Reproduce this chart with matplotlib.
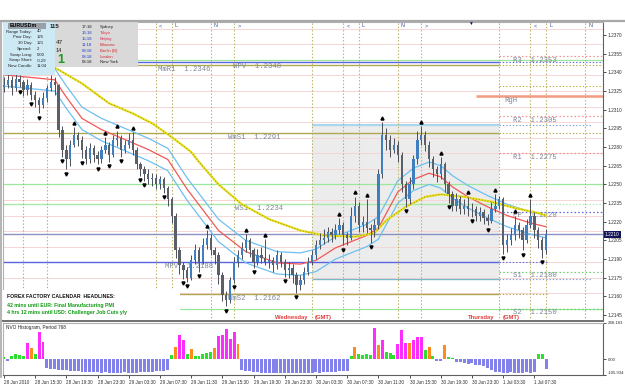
import numpy as np
import matplotlib.pyplot as plt
from matplotlib.patches import Rectangle
from matplotlib.lines import Line2D

plt.rcParams['font.family'] = ['Liberation Sans', 'DejaVu Sans']

W, H = 625, 392

# EURUSD 30-min bars from 28 Jun 2010 11:30, prices in points (1 pt = 0.0001)
first_open_pts = 12328
close_pts = [12330, 12334, 12327, 12335, 12332, 12326, 12330, 12322, 12318, 12314,
             12319, 12327, 12332, 12330, 12294, 12278, 12270, 12282, 12290, 12286,
             12278, 12270, 12279, 12274, 12270, 12278, 12282, 12274, 12286, 12287,
             12278, 12282, 12286, 12278, 12266, 12262, 12258, 12254, 12255, 12250,
             12254, 12247, 12238, 12225, 12197, 12185, 12181, 12175, 12189, 12197,
             12188, 12201, 12207, 12197, 12193, 12177, 12161, 12157, 12173, 12188,
             12193, 12199, 12205, 12197, 12188, 12193, 12191, 12188, 12189, 12185,
             12193, 12188, 12181, 12183, 12177, 12169, 12173, 12180, 12188, 12193,
             12201, 12205, 12207, 12212, 12209, 12213, 12217, 12209, 12207, 12225,
             12233, 12217, 12220, 12215, 12213, 12217, 12258, 12290, 12286, 12278,
             12282, 12274, 12250, 12238, 12250, 12270, 12286, 12290, 12282, 12270,
             12262, 12258, 12266, 12250, 12242, 12233, 12238, 12230, 12233, 12230,
             12230, 12225, 12228, 12223, 12221, 12230, 12233, 12238, 12201, 12205,
             12209, 12217, 12213, 12205, 12217, 12225, 12213, 12205, 12197, 12210]
high_pts = [12336, 12340, 12337, 12339, 12338, 12334, 12335, 12332, 12325, 12320,
            12324, 12330, 12338, 12336, 12331, 12297, 12282, 12286, 12296, 12292,
            12289, 12281, 12283, 12282, 12277, 12281, 12288, 12284, 12290, 12293,
            12290, 12286, 12291, 12292, 12280, 12268, 12265, 12262, 12259, 12258,
            12257, 12256, 12249, 12240, 12227, 12200, 12188, 12184, 12193, 12202,
            12200, 12207, 12213, 12210, 12200, 12196, 12180, 12164, 12176, 12192,
            12197, 12204, 12210, 12207, 12199, 12198, 12200, 12206, 12194, 12192,
            12197, 12196, 12190, 12188, 12186, 12180, 12177, 12184, 12192, 12197,
            12205, 12211, 12214, 12216, 12215, 12218, 12223, 12220, 12212, 12232,
            12240, 12236, 12225, 12238, 12218, 12222, 12262, 12300, 12295, 12290,
            12287, 12285, 12276, 12253, 12256, 12274, 12293, 12297, 12293, 12285,
            12273, 12265, 12272, 12268, 12253, 12245, 12243, 12241, 12238, 12240,
            12235, 12233, 12232, 12230, 12226, 12236, 12242, 12241, 12240, 12210,
            12215, 12225, 12220, 12216, 12222, 12238, 12228, 12216, 12208, 12214]
low_pts = [12324, 12327, 12322, 12325, 12328, 12321, 12322, 12318, 12312, 12307,
           12311, 12316, 12325, 12322, 12288, 12272, 12262, 12265, 12280, 12281,
           12271, 12266, 12267, 12268, 12266, 12267, 12275, 12268, 12272, 12281,
           12272, 12275, 12279, 12274, 12262, 12257, 12253, 12250, 12249, 12246,
           12246, 12243, 12233, 12219, 12191, 12178, 12174, 12172, 12173, 12186,
           12180, 12186, 12198, 12193, 12186, 12170, 12156, 12152, 12155, 12171,
           12184, 12190, 12196, 12192, 12183, 12185, 12187, 12185, 12183, 12180,
           12182, 12184, 12176, 12175, 12171, 12163, 12165, 12170, 12177, 12185,
           12190, 12198, 12202, 12204, 12204, 12206, 12210, 12201, 12201, 12205,
           12220, 12212, 12212, 12211, 12203, 12208, 12214, 12255, 12278, 12272,
           12275, 12268, 12244, 12232, 12234, 12246, 12266, 12282, 12277, 12264,
           12256, 12252, 12254, 12244, 12235, 12229, 12229, 12226, 12226, 12225,
           12224, 12221, 12221, 12218, 12217, 12219, 12228, 12230, 12194, 12196,
           12201, 12205, 12207, 12197, 12203, 12215, 12207, 12199, 12191, 12194]

# fractal arrows (bar indices)
frac_up = [18, 26, 29, 33, 52, 62, 67, 86, 90, 93, 97, 107, 112, 119, 126, 131, 135]
frac_dn = [4, 7, 9, 15, 16, 20, 24, 27, 30, 35, 36, 41, 46, 47, 50, 57, 59, 64, 72,
           75, 87, 94, 103, 114, 120, 124, 128, 133, 138]

# moving average + envelope (bar index, points)
ma_idx = [0, 13, 16, 20, 25, 31, 37, 42, 47, 55, 62, 70, 76, 80, 85, 93, 96, 101,
          105, 109, 112, 115, 119, 124, 129, 135, 139]
ma_mid_pts = [12338, 12334, 12320, 12303, 12294, 12286, 12278, 12270, 12246, 12213,
              12196, 12187, 12186, 12189, 12199, 12209, 12215, 12244, 12254, 12259,
              12256, 12248, 12240, 12232, 12225, 12219, 12216]
ma_up_pts = [12347, 12343, 12329, 12312, 12303, 12295, 12287, 12279, 12255, 12222,
             12205, 12196, 12195, 12198, 12208, 12218, 12224, 12253, 12263, 12268,
             12265, 12257, 12249, 12241, 12234, 12228, 12225]
ma_lo_pts = [12329, 12325, 12311, 12294, 12285, 12277, 12269, 12261, 12237, 12204,
             12187, 12178, 12177, 12180, 12190, 12200, 12206, 12235, 12245, 12250,
             12247, 12239, 12231, 12223, 12216, 12210, 12207]
slow_idx = [0, 14, 20, 27, 33, 38, 43, 48, 50, 55, 61, 68, 76, 82, 90, 95, 98, 103,
            108, 112, 118, 125, 131, 137, 139]
slow_pts = [12366, 12342, 12331, 12315, 12307, 12299, 12288, 12276, 12268, 12250,
            12234, 12222, 12213, 12209, 12208, 12211, 12221, 12232, 12240, 12242,
            12240, 12236, 12231, 12227, 12225]

# NVO histogram, one value per bar; g/o/m positive colours, b negative
nvo_vals = [15, -8, 25, 35, 30, 25, 110, 80, 40, 185, 120,
            -55, -62, -65, -70, -72, -75, -78, -80, -82, -83, -85, -85, -87, -88, -90, -88,
            -90, -92, -92, -90, -88, -90, -92, -90, -88, -85, -85, -83, -82, -80, -78, -75,
            30, 85, 165, 130, 40, 70, 25, 25, 35, 45, 50, 75, 160, 165, 205, 140, 185, 105,
            -70, -78, -82, -85, -88, -90, -90, -92, -93, -90, -92, -95, -93, -92, -95, -93,
            -90, -92, -90, -88, -90, -88, -85, -85, -83, -82, -80, -78,
            25, 85, 35, 30, 40, 30, 215, 100, 130, 50, 45, 30, 105, 200, 115, 110, 135, 150,
            155, 65, 85, 25, -8, -12, 100, 20, 10,
            -15, -20, -25, -30, -25, -35, -40, -45, -60, -75, -85, -88, -90, -90, -88, -90,
            -92, -90, -88, -90, -85,
            35, 40, -65]
nvo_cols = ("gbggggmogmm" + "b" * 32 + "gommgogggggommmmmo" + "b" * 28 +
            "goggggmomgggmmmommmgogbbogg" + "b" * 21 + "ggb")

# pivot levels
wk_names = ["MmR1", "WPV", "WmS1", "WS1", "MPV", "WmS2"]
wk_prices = [1.2346, 1.2348, 1.2291, 1.2234, 1.2188, 1.2162]
dp_names = ["R3", "R2", "R1", "PP", "S1", "S2"]
dp_prices = [1.2353, 1.2305, 1.2275, 1.2228, 1.2180, 1.2150]
round_levels = [1.2350, 1.2250, 1.2150]
extra_level = 1.2329
range_high, range_low = 1.2298, 1.2174
rgh_price = 1.2321
bid = 1.2210

# session markers (hours after 28 Jun 11:30); first two tags sit under the info panel
session_hours = [2.5, 5.5, 19.5, 21.5, 26.5, 29.5, 39.5, 43.5, 45.5, 50.5, 53.5,
                 63.5, 67.5, 69.5, 74.5]
session_tags = ["", "", "<", "L", "N", ">", "", "<", "L", "N", ">", "", "<", "L", "N"]
day_names = ["Wednesday", "Thursday"]
day_hours = [39.5, 63.5]

time_labels = ["28 Jun 2010", "28 Jun 15:30", "28 Jun 19:30", "28 Jun 23:30",
               "29 Jun 03:30", "29 Jun 07:30", "29 Jun 11:30", "29 Jun 15:30",
               "29 Jun 19:30", "29 Jun 23:30", "30 Jun 03:30", "30 Jun 07:30",
               "30 Jun 11:30", "30 Jun 15:30", "30 Jun 19:30", "30 Jun 23:30",
               "1 Jul 03:30", "1 Jul 07:30"]

info_labels = ["Range Today:", "Prior Day:", "30 Day:", "Spread:", "Swap Long:",
               "Swap Short:", "New Candle:"]
info_values = ["40", "125", "121", "2", "0.00", "-0.29", "11:04"]
city_times = ["17:18", "16:18", "15:18", "11:18", "09:18", "08:18", "03:18"]
cities = ["Sydney", "Tokyo", "Beijing", "Moscow", "Berlin (B)", "London", "New York"]
headlines = ["42 mins until EUR: Final Manufacturing PMI",
             "4 hrs 12 mins until USD: Challenger Job Cuts y/y"]

# ---------------------------------------------------------------------------
close = np.array(close_pts) / 1e4
high = np.array(high_pts) / 1e4
low = np.array(low_pts) / 1e4
opn = np.concatenate(([first_open_pts / 1e4], close[:-1]))
hrs = np.arange(len(close)) * 0.5

fig = plt.figure(figsize=(W / 100, H / 100), dpi=100)
fig.patch.set_facecolor('white')

XMIN, XMAX = -0.128, 76.8
ax = fig.add_axes([3 / W, 1 - 321 / H, 600 / W, 299 / H])
ax.set_xlim(XMIN, XMAX)
ax.set_ylim(1.21403, 1.23804)
ax2 = fig.add_axes([3 / W, 1 - 375 / H, 600 / W, 52 / H])
ax2.set_xlim(XMIN, XMAX)
ax2.set_ylim(-105.934, 248.183)


def fx(x):
    return x / W


def fy(y):
    return 1 - y / H


mono = dict(family='Liberation Mono', fontsize=5.2, color='#7c8698')
dot = (0, (1.2, 1.8))
SPLIT = day_hours[1]

# faint quarter grid
for lv in np.arange(1.2150, 1.23751, 0.00125):
    if min(abs(lv - r) for r in round_levels) > 1e-6:
        ax.axhline(lv, color='#f6d6d6', lw=0.7, zorder=0.6)
for lv in round_levels:
    ax.axhline(lv, color='#9be89b', lw=0.9, zorder=0.8)

# previous day range box
ax.add_patch(Rectangle((day_hours[0], range_low), SPLIT - day_hours[0],
                       range_high - range_low, facecolor='#ececec',
                       edgecolor='none', zorder=0.5))
ax.hlines(range_high, day_hours[0], SPLIT, color='#a8d8f0', lw=1.6, zorder=1)
ax.hlines(range_low, day_hours[0], SPLIT, color='#78b8c8', lw=1.0, zorder=1)
ax.hlines([range_high, range_low], SPLIT, 75.3, color='#7aa0e0', lw=0.8,
          linestyles=[dot], zorder=1)

# weekly / monthly levels
wk_style = {"MmR1": ('#b0a850', 19.7), "WPV": ('#5a64e0', 29.4),
            "WmS1": ('#b0a850', 28.7), "WS1": ('#a8e8a8', 29.6),
            "MPV": ('#5a64e0', 20.6), "WmS2": ('#b0a850', 28.7)}
for name, p in zip(wk_names, wk_prices):
    col, lh = wk_style[name]
    ax.hlines(p, XMIN, SPLIT, color=col, lw=1.0, zorder=1)
    end = 69.8 if name in ("MPV", "WmS2") else XMAX
    ax.hlines(p, SPLIT, end, color=col, lw=0.8, linestyles=[dot], zorder=1)
    ax.text(lh, p - 0.00008, f"{name}  {p:.4f}", va='top', ha='left',
            zorder=1.5, **mono)

# daily pivots
dp_col = {"R3": '#f09090', "R2": '#f09090', "R1": '#f09090', "PP": '#5a64e0',
          "S1": '#70d070', "S2": '#70d070'}
for name, p in zip(dp_names, dp_prices):
    ax.hlines(p, SPLIT, XMAX, color=dp_col[name], lw=0.9, linestyles=[dot], zorder=1)
    off = 0.00002 if name == "S2" else -0.00005
    ax.text(65.3, p + off, f"{name}  {p:.4f}", va='top', ha='left',
            zorder=1.5, **mono)
ax.hlines(extra_level, SPLIT, XMAX, color='#c0b040', lw=0.8, linestyles=[dot], zorder=1)
ax.hlines(rgh_price, 60.5, XMAX, color='#f49a80', lw=1.8, zorder=1.2)
ax.text(64.2, rgh_price - 0.0001, "RgH", va='top', ha='left', zorder=1.5, **mono)

# current bid line
ax.axhline(bid, color='#8a92c4', lw=1.0, zorder=1.1)

# session verticals
for h, tag in zip(session_hours, session_tags):
    ax.axvline(h, color='#b8b060', lw=0.8, linestyle=dot, zorder=1)
    if tag:
        ax.text(h + 0.4, 1.23775, tag, fontsize=4, color='#4050a0',
                ha='left', va='center', zorder=2)
for name, h in zip(day_names, day_hours):
    ax.text(h - 0.6, 1.21432, name, fontsize=4.2, color='#e03a3a',
            fontweight='bold', ha='right', va='center', zorder=2)
    ax.text(h + 0.4, 1.21432, "(GMT)", fontsize=4.2, color='#e03a3a',
            fontweight='bold', ha='left', va='center', zorder=2)

# moving averages
ma_h = np.array(ma_idx) * 0.5
ax.plot(ma_h, np.array(ma_up_pts) / 1e4, color='#6ec0f0', lw=0.9, zorder=3)
ax.plot(ma_h, np.array(ma_lo_pts) / 1e4, color='#6ec0f0', lw=0.9, zorder=3)
ax.plot(ma_h, np.array(ma_mid_pts) / 1e4, color='#f05858', lw=0.9, zorder=3)
slow_h = np.array(slow_idx) * 0.5
ax.plot(slow_h, np.array(slow_pts) / 1e4, color='#e8e020', lw=1.6, zorder=3)
ax.plot(slow_h, np.array(slow_pts) / 1e4, color='#8a7a10', lw=0.6,
        linestyle=(0, (1, 2.5)), zorder=3.1)

# candles
up = close >= opn
ax.vlines(hrs, low, high, color='#4a4f58', lw=0.7, zorder=4)
body = np.where(np.abs(close - opn) < 0.00002, 0.00002, close - opn)
ax.bar(hrs, body, bottom=opn, width=0.3,
       color=np.where(up, '#3f7fbf', '#5a5f68'), edgecolor='none', zorder=4.5)

# fractals
ax.plot(hrs[frac_up], high[frac_up] + 0.00035, linestyle='none', marker='^',
        ms=2.2, color='black', zorder=5)
ax.plot(hrs[frac_dn], low[frac_dn] - 0.00035, linestyle='none', marker='v',
        ms=2.2, color='black', zorder=5)

# price axis
ticks = np.round(np.arange(1.2145, 1.23701, 0.0015), 4)
ax.yaxis.tick_right()
ax.set_yticks(ticks)
ax.set_yticklabels([f"{t:.4f}" for t in ticks])
ax.tick_params(axis='y', length=2, width=0.6, pad=1.5, labelsize=3.4, colors='#303030')
ax.set_xticks([])
ax.text(1.003, bid, f"{bid:.4f}", transform=ax.get_yaxis_transform(),
        fontsize=3.4, color='white', va='center', ha='left', zorder=6,
        bbox=dict(boxstyle='square,pad=0.25', fc='#14145a', ec='none'))
for side in ('top', 'left'):
    ax.spines[side].set_color('#b0b0b0')
ax.spines['right'].set_color('#606060')
ax.spines['bottom'].set_color('#707070')
ax.spines['bottom'].set_linewidth(1.4)

# NVO histogram
cmap = {'g': '#2ee02e', 'o': '#ff8c1a', 'm': '#ff2cff', 'b': '#8282ea'}
ax2.bar(hrs, nvo_vals, width=0.38, color=[cmap[c] for c in nvo_cols],
        edgecolor='none')
ax2.text(0.3, 232, "NVO Histogram, Period 768", fontsize=3.4, color='#202020',
         va='top', ha='left')
ax2.yaxis.tick_right()
ax2.set_yticks([-105.934, 0, 248.183])
ax2.set_yticklabels(["-105.934", "0.00", "248.183"])
ax2.tick_params(axis='y', length=2, width=0.6, pad=1.2, labelsize=3.1, colors='#303030')
ax2.get_yticklabels()[0].set_va('bottom')
ax2.set_xticks(np.arange(len(time_labels)) * 4.0)
ax2.set_xticklabels(time_labels, ha='left')
ax2.tick_params(axis='x', length=2, width=0.6, pad=1.5, labelsize=3.3, colors='#303030')
for side in ('top', 'left'):
    ax2.spines[side].set_color('#b0b0b0')
ax2.spines['right'].set_color('#606060')
ax2.spines['bottom'].set_color('#606060')

# window frame
fig.add_artist(Line2D([0, 1], [fy(20.5)] * 2, color='#a8a8a8', lw=1.6))
fig.add_artist(Line2D([fx(1.5)] * 2, [fy(20.5), fy(377)], color='#a8a8a8', lw=1.2))

# info panel (top-left)
def ftext(x, y, s, **kw):
    ax.text(fx(x), fy(y), s, transform=fig.transFigure, zorder=11,
            clip_on=False, **kw)


ax.add_patch(Rectangle((fx(3), fy(75)), 52 / W, 53 / H, transform=fig.transFigure,
                       facecolor='#cdeaf4', edgecolor='none', zorder=10, clip_on=False))
ax.add_patch(Rectangle((fx(55), fy(67)), 83 / W, 45 / H, transform=fig.transFigure,
                       facecolor='#d9d9d9', edgecolor='none', zorder=10, clip_on=False))
ax.add_patch(Rectangle((fx(8), fy(28.5)), 38 / W, 5.5 / H, transform=fig.transFigure,
                       facecolor='#9aa0a8', edgecolor='none', zorder=10.5, clip_on=False))
ftext(10, 25.8, "EURUSDm", fontsize=3.8, fontweight='bold', color='black', va='center')
ftext(50, 27, "115", fontsize=4.4, fontweight='bold', color='#202020', va='center')
ftext(56, 43, "47", fontsize=4.6, color='#202020', va='center')
ftext(56, 50, "14", fontsize=4.0, color='#202020', va='center')
ftext(57, 60, "1", fontsize=9, fontweight='bold', color='#1f9a1f', va='center')
for k, (lab, val) in enumerate(zip(info_labels, info_values)):
    yy = 31.5 + k * 5.8
    ftext(32, yy, lab, fontsize=3.1, color='#202020', ha='right', va='center')
    ftext(37, yy, val, fontsize=3.1, color='#202020', ha='left', va='center')
city_col = ['#202020', '#e03040', '#e03060', '#e02020', '#e02020', '#e03040', '#202020']
for k, (t, c) in enumerate(zip(city_times, cities)):
    yy = 27 + k * 5.9
    ftext(82, yy, t, fontsize=3.1, ha='left', va='center',
          color='#202020' if k in (0, 6) else '#2440c8')
    ftext(100, yy, c, fontsize=3.1, ha='left', va='center', color=city_col[k])

# calendar headlines box
ax.add_patch(Rectangle((fx(3), fy(320)), 177 / W, 30 / H, transform=fig.transFigure,
                       facecolor='white', edgecolor='none', zorder=10, clip_on=False))
ftext(7, 297, "FOREX FACTORY CALENDAR  HEADLINES:", fontsize=3.7, fontweight='bold',
      color='#101010', va='center')
for k, line in enumerate(headlines):
    ftext(7, 305.5 + k * 7, line, fontsize=3.7, fontweight='bold', color='#109a10',
          va='center')

# chart-shift marker
ftext(470, 23.5, "\u25bc", fontsize=3.5, color='#101040', ha='center', va='center')

fig.savefig("out.png", dpi=100, facecolor='white')
